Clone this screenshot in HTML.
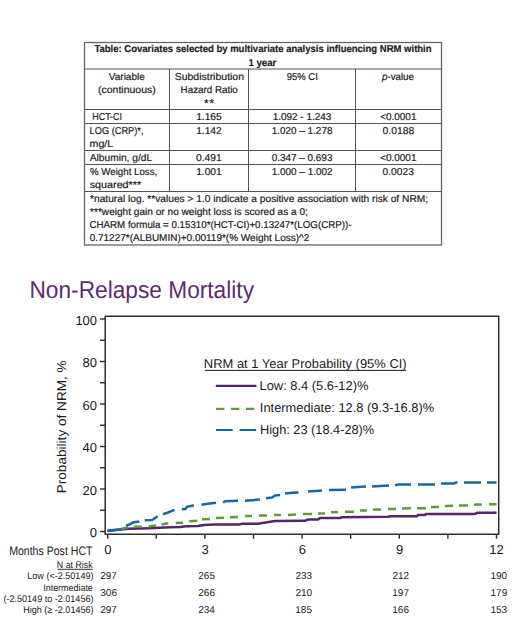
<!DOCTYPE html>
<html><head><meta charset="utf-8"><style>
html,body{margin:0;padding:0;background:#fff;}
body{width:520px;height:623px;overflow:hidden;}
svg{display:block;font-family:'Liberation Sans', sans-serif;}
</style></head><body>
<svg width="520" height="623" viewBox="0 0 520 623" text-rendering="geometricPrecision">
<rect width="520" height="623" fill="#fff"/>
<rect x="84.5" y="42.5" width="357.0" height="202.5" fill="none" stroke="#666" stroke-width="1.3"/>
<line x1="84.5" y1="69.0" x2="441.5" y2="69.0" stroke="#555" stroke-width="1"/>
<line x1="84.5" y1="109.5" x2="441.5" y2="109.5" stroke="#555" stroke-width="1"/>
<line x1="84.5" y1="123.5" x2="441.5" y2="123.5" stroke="#555" stroke-width="1"/>
<line x1="84.5" y1="150.5" x2="441.5" y2="150.5" stroke="#555" stroke-width="1"/>
<line x1="84.5" y1="164.5" x2="441.5" y2="164.5" stroke="#555" stroke-width="1"/>
<line x1="84.5" y1="191.5" x2="441.5" y2="191.5" stroke="#555" stroke-width="1"/>
<line x1="169.5" y1="69.0" x2="169.5" y2="191.5" stroke="#555" stroke-width="1"/>
<line x1="248.5" y1="69.0" x2="248.5" y2="191.5" stroke="#555" stroke-width="1"/>
<line x1="355.5" y1="69.0" x2="355.5" y2="191.5" stroke="#555" stroke-width="1"/>
<path d="M105.2 534.3 V316.3 H498.7 V534.3 Z" fill="none" stroke="#2e2e2e" stroke-width="1.5"/>
<line x1="100" y1="531.50" x2="105.2" y2="531.50" stroke="#2e2e2e" stroke-width="1.4"/>
<line x1="100" y1="510.25" x2="105.2" y2="510.25" stroke="#2e2e2e" stroke-width="1.4"/>
<line x1="100" y1="489.00" x2="105.2" y2="489.00" stroke="#2e2e2e" stroke-width="1.4"/>
<line x1="100" y1="467.75" x2="105.2" y2="467.75" stroke="#2e2e2e" stroke-width="1.4"/>
<line x1="100" y1="446.50" x2="105.2" y2="446.50" stroke="#2e2e2e" stroke-width="1.4"/>
<line x1="100" y1="425.25" x2="105.2" y2="425.25" stroke="#2e2e2e" stroke-width="1.4"/>
<line x1="100" y1="404.00" x2="105.2" y2="404.00" stroke="#2e2e2e" stroke-width="1.4"/>
<line x1="100" y1="382.75" x2="105.2" y2="382.75" stroke="#2e2e2e" stroke-width="1.4"/>
<line x1="100" y1="361.50" x2="105.2" y2="361.50" stroke="#2e2e2e" stroke-width="1.4"/>
<line x1="100" y1="340.25" x2="105.2" y2="340.25" stroke="#2e2e2e" stroke-width="1.4"/>
<line x1="100" y1="319.00" x2="105.2" y2="319.00" stroke="#2e2e2e" stroke-width="1.4"/>
<line x1="107.70" y1="534.3" x2="107.70" y2="538.8" stroke="#2e2e2e" stroke-width="1.4"/>
<line x1="204.90" y1="534.3" x2="204.90" y2="538.8" stroke="#2e2e2e" stroke-width="1.4"/>
<line x1="302.10" y1="534.3" x2="302.10" y2="538.8" stroke="#2e2e2e" stroke-width="1.4"/>
<line x1="399.30" y1="534.3" x2="399.30" y2="538.8" stroke="#2e2e2e" stroke-width="1.4"/>
<line x1="496.50" y1="534.3" x2="496.50" y2="538.8" stroke="#2e2e2e" stroke-width="1.4"/>
<line x1="156.30" y1="534.3" x2="156.30" y2="538.8" stroke="#2e2e2e" stroke-width="1.4"/>
<line x1="253.50" y1="534.3" x2="253.50" y2="538.8" stroke="#2e2e2e" stroke-width="1.4"/>
<line x1="350.70" y1="534.3" x2="350.70" y2="538.8" stroke="#2e2e2e" stroke-width="1.4"/>
<line x1="447.90" y1="534.3" x2="447.90" y2="538.8" stroke="#2e2e2e" stroke-width="1.4"/>
<path d="M107.5 530.8 L121.0 529.6 L128.0 528.8 L150.0 528.2 L170.0 527.3 L180.0 527.0 L186.0 526.3 L198.0 526.0 L204.0 525.0 L215.0 524.6 L240.0 524.4 L242.0 523.8 L258.0 523.8 L275.0 521.0 L305.0 520.8 L308.0 519.5 L318.0 519.5 L320.0 518.0 L340.0 518.0 L342.0 517.3 L388.0 516.8 L390.0 516.2 L417.0 516.2 L418.0 515.0 L425.0 515.0 L426.0 514.0 L436.0 513.9 L475.0 513.9 L477.0 512.8 L496.5 512.8" fill="none" stroke="#55256d" stroke-width="2.5" stroke-linejoin="round"/>
<path d="M107.5 530.9 L114.5 530.5 M121.0 529.0 L124.0 528.2 L128.0 527.2 M134.0 526.8 L142.0 526.7 M148.8 526.3 L156.2 525.6 M161.6 524.4 L168.3 523.2 M175.7 523.0 L183.1 522.8 M189.2 521.2 L197.3 520.8 M202.0 519.2 L210.0 518.9 M216.0 518.0 L224.0 517.8 M230.0 517.3 L238.0 517.1 M245.0 516.1 L252.0 516.0 M259.0 515.6 L267.0 515.5 M274.0 515.1 L281.0 515.0 M288.0 515.0 L296.0 514.6 M303.0 514.1 L312.0 514.0 M318.0 513.6 L325.0 513.4 M331.0 512.3 L338.0 512.0 M345.0 511.8 L354.0 511.8 M360.0 510.6 L367.0 510.5 M373.0 509.6 L381.0 509.5 M388.0 509.1 L396.0 509.0 M402.0 508.4 L411.0 508.3 M417.0 508.3 L426.0 508.3 M431.0 507.1 L439.0 507.0 M445.0 505.9 L453.0 505.8 M459.0 505.5 L468.0 505.4 M474.0 504.9 L476.0 504.6 L482.0 504.6 M489.0 504.2 L496.5 504.2" fill="none" stroke="#5e9a3a" stroke-width="2.5" stroke-linejoin="round"/>
<path d="M107.5 530.8 L121.3 529.3 M126.0 525.6 L130.0 524.2 L134.0 522.2 L139.4 521.6 M144.8 520.2 L152.2 520.0 L157.6 516.2 M163.0 514.2 L168.0 512.5 L174.4 509.8 M181.8 509.3 L185.5 509.0 L187.0 506.8 L193.9 505.4 M201.5 504.7 L208.0 503.8 L216.0 502.8 M223.0 502.6 L225.0 501.2 L238.0 500.7 M245.0 500.7 L252.0 500.2 L260.0 499.6 M266.0 498.2 L272.0 497.5 L275.0 495.5 L280.0 495.0 M285.0 493.6 L292.0 492.8 L298.5 492.4 M308.0 491.6 L315.0 491.0 L322.0 490.6 M329.0 489.9 L346.0 489.8 M351.0 487.6 L358.0 487.0 L366.0 486.6 M372.0 486.5 L380.0 486.0 L389.0 485.6 M395.0 485.3 L398.0 484.6 L411.0 484.5 M418.0 484.5 L435.0 484.5 M441.0 483.6 L454.0 483.4 L456.0 482.6 L457.5 482.5 M464.0 482.5 L481.0 482.5 M487.0 482.5 L496.5 482.5" fill="none" stroke="#1966a6" stroke-width="2.5" stroke-linejoin="round"/>
<line x1="215.8" y1="385.8" x2="256.4" y2="385.8" stroke="#55256d" stroke-width="2.2"/>
<line x1="216" y1="408.8" x2="256" y2="408.8" stroke="#5e9a3a" stroke-width="2.3" stroke-dasharray="8.3 6.7"/>
<line x1="216" y1="430" x2="256.2" y2="430" stroke="#1966a6" stroke-width="2.2" stroke-dasharray="16.7 6.8"/>
<line x1="204.9" y1="370.4" x2="406.2" y2="370.4" stroke="#1a1a1a" stroke-width="1"/>
<line x1="57.5" y1="569.3" x2="92.7" y2="569.3" stroke="#1a1a1a" stroke-width="0.9"/>
<text transform="matrix(0.9515 0 0 1 94.40 52.20)" font-size="10.0" font-weight="bold" fill="#1c1c1c" stroke="#1c1c1c" stroke-width="0.2">Table: Covariates selected by multivariate analysis influencing NRM within</text>
<text transform="matrix(0.9654 0 0 1 248.42 65.60)" font-size="10.0" font-weight="bold" fill="#1c1c1c" stroke="#1c1c1c" stroke-width="0.2">1 year</text>
<text transform="matrix(1.0018 0 0 1 108.80 79.90)" font-size="10.0" font-weight="normal" fill="#1c1c1c" stroke="#1c1c1c" stroke-width="0.2">Variable</text>
<text transform="matrix(1.0492 0 0 1 97.97 92.80)" font-size="10.0" font-weight="normal" fill="#1c1c1c" stroke="#1c1c1c" stroke-width="0.2">(continuous)</text>
<text transform="matrix(1.0493 0 0 1 174.63 79.80)" font-size="10.0" font-weight="normal" fill="#1c1c1c" stroke="#1c1c1c" stroke-width="0.2">Subdistribution</text>
<text transform="matrix(0.9799 0 0 1 180.62 92.90)" font-size="10.0" font-weight="normal" fill="#1c1c1c" stroke="#1c1c1c" stroke-width="0.2">Hazard Ratio</text>
<text transform="matrix(1.0000 0 0 1 204.06 106.64)" font-size="11.5" font-weight="normal" fill="#1c1c1c" stroke="#1c1c1c" stroke-width="0.2">*</text>
<text transform="matrix(1.0000 0 0 1 209.56 106.64)" font-size="11.5" font-weight="normal" fill="#1c1c1c" stroke="#1c1c1c" stroke-width="0.2">*</text>
<text transform="matrix(0.9471 0 0 1 286.77 79.80)" font-size="10.0" font-weight="normal" fill="#1c1c1c" stroke="#1c1c1c" stroke-width="0.2">95% CI</text>
<text transform="matrix(0.9713 0 0 1 382.04 79.60)" font-size="10.0" font-weight="normal" fill="#1c1c1c" stroke="#1c1c1c" stroke-width="0.2"><tspan font-style="italic">p</tspan><tspan font-style="normal">-value</tspan></text>
<text transform="matrix(0.8909 0 0 1 92.29 119.90)" font-size="10.0" font-weight="normal" fill="#1c1c1c" stroke="#1c1c1c" stroke-width="0.2">HCT-CI</text>
<text transform="matrix(1.0183 0 0 1 196.14 119.90)" font-size="10.0" font-weight="normal" fill="#1c1c1c" stroke="#1c1c1c" stroke-width="0.2">1.165</text>
<text transform="matrix(0.9935 0 0 1 272.75 119.90)" font-size="10.0" font-weight="normal" fill="#1c1c1c" stroke="#1c1c1c" stroke-width="0.2">1.092 - 1.243</text>
<text transform="matrix(0.9968 0 0 1 380.15 119.90)" font-size="10.0" font-weight="normal" fill="#1c1c1c" stroke="#1c1c1c" stroke-width="0.2">&lt;0.0001</text>
<text transform="matrix(0.9248 0 0 1 89.56 133.60)" font-size="10.0" font-weight="normal" fill="#1c1c1c" stroke="#1c1c1c" stroke-width="0.2">LOG (CRP)*,</text>
<text transform="matrix(1.0625 0 0 1 89.61 146.60)" font-size="10.0" font-weight="normal" fill="#1c1c1c" stroke="#1c1c1c" stroke-width="0.2">mg/L</text>
<text transform="matrix(1.0205 0 0 1 196.13 133.60)" font-size="10.0" font-weight="normal" fill="#1c1c1c" stroke="#1c1c1c" stroke-width="0.2">1.142</text>
<text transform="matrix(0.9916 0 0 1 271.76 133.50)" font-size="10.0" font-weight="normal" fill="#1c1c1c" stroke="#1c1c1c" stroke-width="0.2">1.020 – 1.278</text>
<text transform="matrix(1.0327 0 0 1 382.54 133.50)" font-size="10.0" font-weight="normal" fill="#1c1c1c" stroke="#1c1c1c" stroke-width="0.2">0.0188</text>
<text transform="matrix(1.0191 0 0 1 89.80 161.10)" font-size="10.0" font-weight="normal" fill="#1c1c1c" stroke="#1c1c1c" stroke-width="0.2">Albumin, g/dL</text>
<text transform="matrix(1.0242 0 0 1 196.04 161.10)" font-size="10.0" font-weight="normal" fill="#1c1c1c" stroke="#1c1c1c" stroke-width="0.2">0.491</text>
<text transform="matrix(0.9933 0 0 1 271.65 161.00)" font-size="10.0" font-weight="normal" fill="#1c1c1c" stroke="#1c1c1c" stroke-width="0.2">0.347 – 0.693</text>
<text transform="matrix(0.9968 0 0 1 380.15 161.00)" font-size="10.0" font-weight="normal" fill="#1c1c1c" stroke="#1c1c1c" stroke-width="0.2">&lt;0.0001</text>
<text transform="matrix(0.9711 0 0 1 89.96 174.80)" font-size="10.0" font-weight="normal" fill="#1c1c1c" stroke="#1c1c1c" stroke-width="0.2">% Weight Loss,</text>
<text transform="matrix(1.0755 0 0 1 89.73 187.70)" font-size="10.0" font-weight="normal" fill="#1c1c1c" stroke="#1c1c1c" stroke-width="0.2">squared***</text>
<text transform="matrix(1.0205 0 0 1 196.13 174.80)" font-size="10.0" font-weight="normal" fill="#1c1c1c" stroke="#1c1c1c" stroke-width="0.2">1.001</text>
<text transform="matrix(0.9924 0 0 1 271.76 174.60)" font-size="10.0" font-weight="normal" fill="#1c1c1c" stroke="#1c1c1c" stroke-width="0.2">1.000 – 1.002</text>
<text transform="matrix(1.0227 0 0 1 382.54 174.80)" font-size="10.0" font-weight="normal" fill="#1c1c1c" stroke="#1c1c1c" stroke-width="0.2">0.0023</text>
<text transform="matrix(1.0195 0 0 1 90.05 201.90)" font-size="10.0" font-weight="normal" fill="#1c1c1c" stroke="#1c1c1c" stroke-width="0.2">*natural log.  **values &gt; 1.0 indicate a positive association with risk of NRM;</text>
<text transform="matrix(1.0100 0 0 1 90.05 215.00)" font-size="10.0" font-weight="normal" fill="#1c1c1c" stroke="#1c1c1c" stroke-width="0.2">***weight gain or no weight loss is scored as a 0;</text>
<text transform="matrix(0.9737 0 0 1 89.51 228.10)" font-size="10.0" font-weight="normal" fill="#1c1c1c" stroke="#1c1c1c" stroke-width="0.2">CHARM formula = 0.15310*(HCT-CI)+0.13247*(LOG(CRP))-</text>
<text transform="matrix(0.9995 0 0 1 89.65 241.20)" font-size="10.0" font-weight="normal" fill="#1c1c1c" stroke="#1c1c1c" stroke-width="0.2">0.71227*(ALBUMIN)+0.00119*(% Weight Loss)^2</text>
<text transform="matrix(0.9340 0 0 1 29.48 298.00)" font-size="24.3" font-weight="normal" fill="#5b2d73">Non-Relapse Mortality</text>
<text transform="matrix(1.0000 0 0 1 75.38 324.60)" font-size="13.0" font-weight="normal" fill="#1a1a1a">100</text>
<text transform="matrix(1.0000 0 0 1 82.61 367.10)" font-size="13.0" font-weight="normal" fill="#1a1a1a">80</text>
<text transform="matrix(1.0000 0 0 1 82.61 409.60)" font-size="13.0" font-weight="normal" fill="#1a1a1a">60</text>
<text transform="matrix(1.0000 0 0 1 82.61 452.10)" font-size="13.0" font-weight="normal" fill="#1a1a1a">40</text>
<text transform="matrix(1.0000 0 0 1 82.61 494.60)" font-size="13.0" font-weight="normal" fill="#1a1a1a">20</text>
<text transform="matrix(1.0000 0 0 1 89.84 537.10)" font-size="13.0" font-weight="normal" fill="#1a1a1a">0</text>
<text transform="matrix(1.0000 0 0 1 104.29 554.20)" font-size="13.0" font-weight="normal" fill="#1a1a1a">0</text>
<text transform="matrix(1.0000 0 0 1 201.53 554.20)" font-size="13.0" font-weight="normal" fill="#1a1a1a">3</text>
<text transform="matrix(1.0000 0 0 1 298.63 554.20)" font-size="13.0" font-weight="normal" fill="#1a1a1a">6</text>
<text transform="matrix(1.0000 0 0 1 395.89 554.20)" font-size="13.0" font-weight="normal" fill="#1a1a1a">9</text>
<text transform="matrix(1.0000 0 0 1 489.28 554.20)" font-size="13.0" font-weight="normal" fill="#1a1a1a">12</text>
<text transform="matrix(1.0111 0 0 1 203.86 368.40)" font-size="12.8" font-weight="normal" fill="#1a1a1a">NRM at 1 Year Probability (95% CI)</text>
<text transform="matrix(1.0077 0 0 1 259.47 390.40)" font-size="12.8" font-weight="normal" fill="#1a1a1a">Low: 8.4 (5.6-12)%</text>
<text transform="matrix(1.0046 0 0 1 259.84 412.30)" font-size="12.8" font-weight="normal" fill="#1a1a1a">Intermediate: 12.8 (9.3-16.8)%</text>
<text transform="matrix(0.9974 0 0 1 259.98 434.20)" font-size="12.8" font-weight="normal" fill="#1a1a1a">High: 23 (18.4-28)%</text>
<text transform="matrix(0.8520 0 0 1 9.15 555.30)" font-size="12.4" font-weight="normal" fill="#1a1a1a">Months Post HCT</text>
<text transform="matrix(0.9210 0 0 1 56.79 567.60)" font-size="9.6" font-weight="normal" fill="#1a1a1a">N at Risk</text>
<text transform="matrix(0.9441 0 0 1 27.27 579.30)" font-size="9.6" font-weight="normal" fill="#1a1a1a">Low (&lt;-2.50149)</text>
<text transform="matrix(0.9308 0 0 1 43.20 590.70)" font-size="9.6" font-weight="normal" fill="#1a1a1a">Intermediate</text>
<text transform="matrix(0.9428 0 0 1 3.46 601.60)" font-size="9.6" font-weight="normal" fill="#1a1a1a">(-2.50149 to -2.01456)</text>
<text transform="matrix(0.9412 0 0 1 23.28 613.20)" font-size="9.6" font-weight="normal" fill="#1a1a1a">High (≥ -2.01456)</text>
<text transform="matrix(1.0000 0 0 1 100.24 579.00)" font-size="10.0" font-weight="normal" fill="#1a1a1a">297</text>
<text transform="matrix(1.0000 0 0 1 100.29 596.00)" font-size="10.0" font-weight="normal" fill="#1a1a1a">306</text>
<text transform="matrix(1.0000 0 0 1 100.24 613.00)" font-size="10.0" font-weight="normal" fill="#1a1a1a">297</text>
<text transform="matrix(1.0000 0 0 1 198.31 579.00)" font-size="10.0" font-weight="normal" fill="#1a1a1a">265</text>
<text transform="matrix(1.0000 0 0 1 198.31 596.00)" font-size="10.0" font-weight="normal" fill="#1a1a1a">266</text>
<text transform="matrix(1.0000 0 0 1 198.24 613.00)" font-size="10.0" font-weight="normal" fill="#1a1a1a">234</text>
<text transform="matrix(1.0000 0 0 1 295.41 579.00)" font-size="10.0" font-weight="normal" fill="#1a1a1a">233</text>
<text transform="matrix(1.0000 0 0 1 295.39 596.00)" font-size="10.0" font-weight="normal" fill="#1a1a1a">210</text>
<text transform="matrix(1.0000 0 0 1 295.29 613.00)" font-size="10.0" font-weight="normal" fill="#1a1a1a">185</text>
<text transform="matrix(1.0000 0 0 1 392.44 579.00)" font-size="10.0" font-weight="normal" fill="#1a1a1a">212</text>
<text transform="matrix(1.0000 0 0 1 392.31 596.00)" font-size="10.0" font-weight="normal" fill="#1a1a1a">197</text>
<text transform="matrix(1.0000 0 0 1 392.29 613.00)" font-size="10.0" font-weight="normal" fill="#1a1a1a">166</text>
<text transform="matrix(1.0000 0 0 1 490.46 579.00)" font-size="10.0" font-weight="normal" fill="#1a1a1a">190</text>
<text transform="matrix(1.0000 0 0 1 490.51 596.00)" font-size="10.0" font-weight="normal" fill="#1a1a1a">179</text>
<text transform="matrix(1.0000 0 0 1 490.49 613.00)" font-size="10.0" font-weight="normal" fill="#1a1a1a">153</text>
<text transform="translate(65.8 493.3) rotate(-90) scale(1.055 1)" font-size="12.9" fill="#1a1a1a">Probability of NRM, %</text>
</svg>
</body></html>
